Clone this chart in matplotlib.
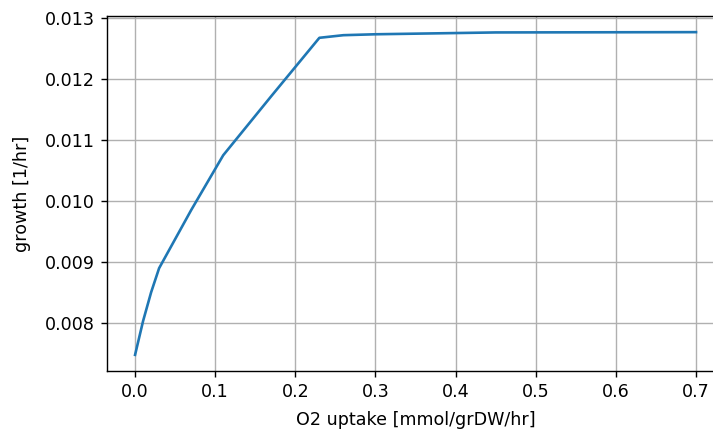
import matplotlib
matplotlib.use('Agg')
import matplotlib.pyplot as plt

# O2 uptake vs growth
o2_uptake = [0.0, 0.01, 0.02, 0.03, 0.07, 0.11, 0.17, 0.23, 0.26, 0.30, 0.45, 0.70]
growth = [0.007475, 0.00803, 0.00850, 0.008897, 0.00985, 0.01075, 0.01172,
          0.012677, 0.01272, 0.012735, 0.012765, 0.01277]

fig = plt.figure(figsize=(713 / 126, 429 / 126), dpi=126)
ax = fig.add_axes([0.1501, 0.1352, 0.8654, 0.8275])

ax.plot(o2_uptake, growth)
ax.set_xlabel('O2 uptake [mmol/grDW/hr]', labelpad=5.5)
ax.set_ylabel('growth [1/hr]', labelpad=8)
ax.grid(True)

fig.savefig('out.png', dpi=126)
